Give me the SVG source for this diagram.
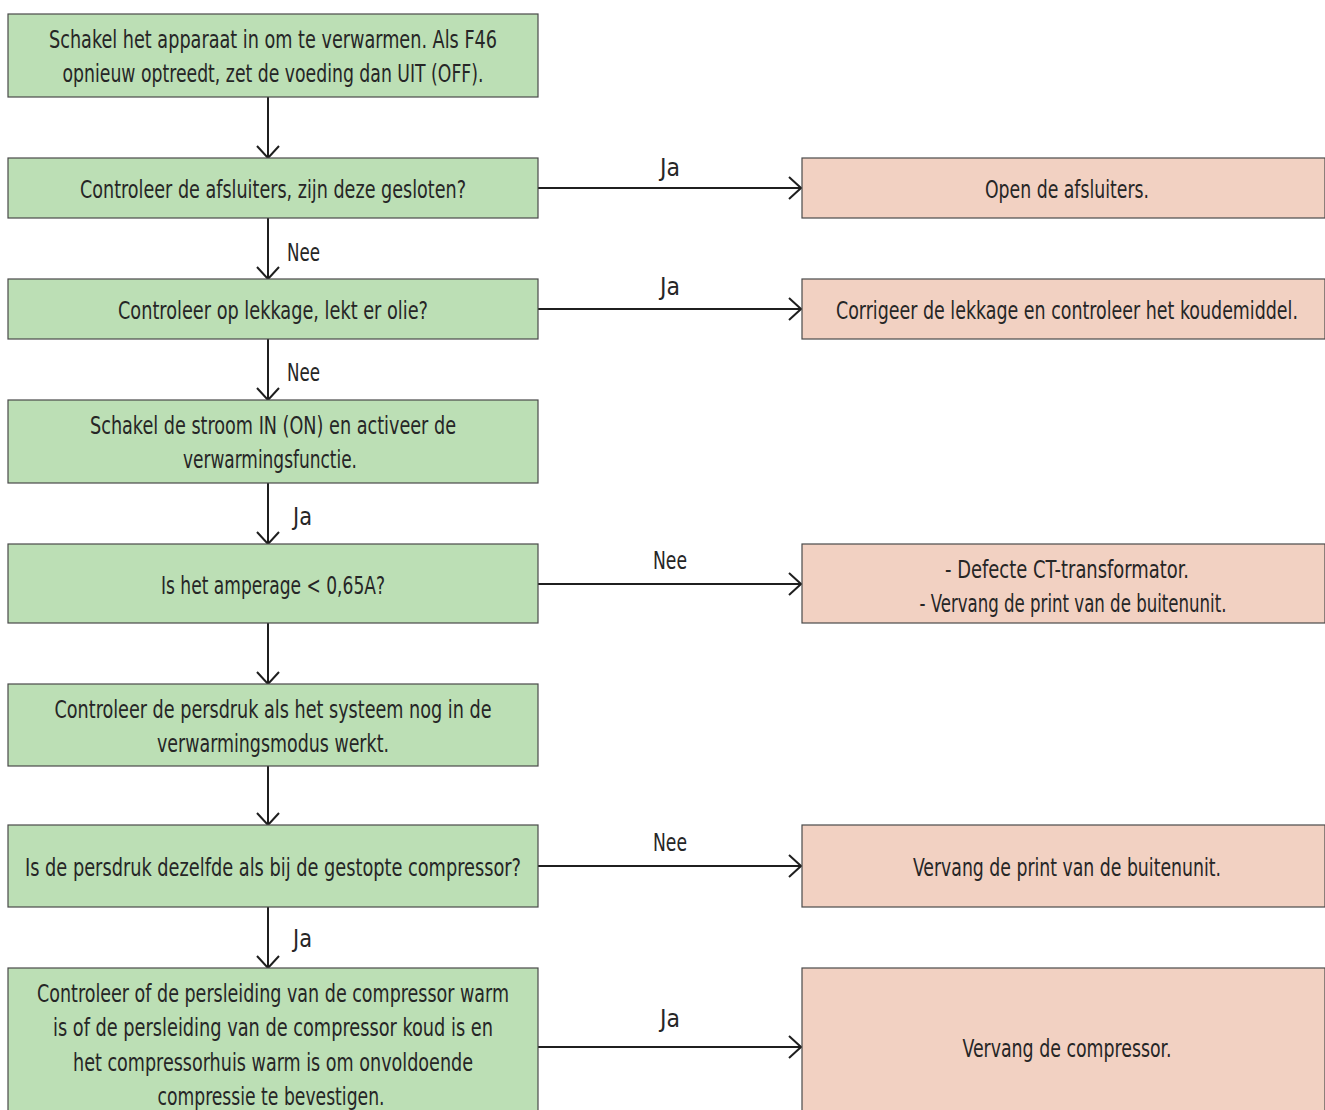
<svg xmlns="http://www.w3.org/2000/svg" width="1325" height="1110" viewBox="0 0 1325 1110">
<defs>
<style>
.g{fill:#bcdfb5;stroke:#4a4a4a;stroke-width:1.2}
.p{fill:#f2d1c2;stroke:#4a4a4a;stroke-width:1.2}
text{font-family:"Liberation Sans Narrow","DejaVu Sans Condensed","Liberation Sans",sans-serif;font-size:25px;fill:#262626}
.c{text-anchor:middle}
.ln{stroke:#1f1f1f;stroke-width:2;fill:none}
</style>
<marker id="ah" viewBox="0 0 14 24" refX="13" refY="12" markerWidth="14" markerHeight="24" markerUnits="userSpaceOnUse" orient="auto">
<path d="M1,1 L13,12 L1,23" fill="none" stroke="#1f1f1f" stroke-width="2"/>
</marker>
</defs>
<rect width="1325" height="1110" fill="#fff"/>
<g id="connectors">
<line class="ln" x1="268" y1="97" x2="268" y2="158" marker-end="url(#ah)"/>
<line class="ln" x1="268" y1="218" x2="268" y2="279" marker-end="url(#ah)"/>
<line class="ln" x1="268" y1="339" x2="268" y2="400" marker-end="url(#ah)"/>
<line class="ln" x1="268" y1="483" x2="268" y2="544" marker-end="url(#ah)"/>
<line class="ln" x1="268" y1="623" x2="268" y2="684" marker-end="url(#ah)"/>
<line class="ln" x1="268" y1="766" x2="268" y2="825" marker-end="url(#ah)"/>
<line class="ln" x1="268" y1="907" x2="268" y2="968" marker-end="url(#ah)"/>
<line class="ln" x1="538" y1="188" x2="801" y2="188" marker-end="url(#ah)"/>
<line class="ln" x1="538" y1="309" x2="801" y2="309" marker-end="url(#ah)"/>
<line class="ln" x1="538" y1="584" x2="801" y2="584" marker-end="url(#ah)"/>
<line class="ln" x1="538" y1="866" x2="801" y2="866" marker-end="url(#ah)"/>
<line class="ln" x1="538" y1="1047" x2="801" y2="1047" marker-end="url(#ah)"/>
<text class="c" x="670" y="176" textLength="20" lengthAdjust="spacingAndGlyphs">Ja</text>
<text class="c" x="670" y="295" textLength="20" lengthAdjust="spacingAndGlyphs">Ja</text>
<text class="c" x="670" y="569" textLength="34" lengthAdjust="spacingAndGlyphs">Nee</text>
<text class="c" x="670" y="851" textLength="34" lengthAdjust="spacingAndGlyphs">Nee</text>
<text class="c" x="670" y="1027" textLength="20" lengthAdjust="spacingAndGlyphs">Ja</text>
<text x="287" y="261" textLength="33" lengthAdjust="spacingAndGlyphs">Nee</text>
<text x="287" y="381" textLength="33" lengthAdjust="spacingAndGlyphs">Nee</text>
<text x="293" y="525" textLength="19" lengthAdjust="spacingAndGlyphs">Ja</text>
<text x="293" y="947" textLength="19" lengthAdjust="spacingAndGlyphs">Ja</text>
</g>
<g id="n1"><rect class="g" x="8" y="14" width="530" height="83"/>
<text class="c" x="273" y="48" textLength="448" lengthAdjust="spacingAndGlyphs">Schakel het apparaat in om te verwarmen. Als F46</text>
<text class="c" x="273" y="82" textLength="421" lengthAdjust="spacingAndGlyphs">opnieuw optreedt, zet de voeding dan UIT (OFF).</text></g>
<g id="n2"><rect class="g" x="8" y="158" width="530" height="60"/>
<text class="c" x="273" y="198" textLength="386" lengthAdjust="spacingAndGlyphs">Controleer de afsluiters, zijn deze gesloten?</text></g>
<g id="n3"><rect class="g" x="8" y="279" width="530" height="60"/>
<text class="c" x="273" y="319" textLength="310" lengthAdjust="spacingAndGlyphs">Controleer op lekkage, lekt er olie?</text></g>
<g id="n4"><rect class="g" x="8" y="400" width="530" height="83"/>
<text class="c" x="273" y="434" textLength="366" lengthAdjust="spacingAndGlyphs">Schakel de stroom IN (ON) en activeer de</text>
<text class="c" x="270" y="468" textLength="174" lengthAdjust="spacingAndGlyphs">verwarmingsfunctie.</text></g>
<g id="n5"><rect class="g" x="8" y="544" width="530" height="79"/>
<text class="c" x="273" y="594" textLength="224" lengthAdjust="spacingAndGlyphs">Is het amperage &lt; 0,65A?</text></g>
<g id="n6"><rect class="g" x="8" y="684" width="530" height="82"/>
<text class="c" x="273" y="718" textLength="437" lengthAdjust="spacingAndGlyphs">Controleer de persdruk als het systeem nog in de</text>
<text class="c" x="273" y="752" textLength="232" lengthAdjust="spacingAndGlyphs">verwarmingsmodus werkt.</text></g>
<g id="n7"><rect class="g" x="8" y="825" width="530" height="82"/>
<text class="c" x="273" y="876" textLength="496" lengthAdjust="spacingAndGlyphs">Is de persdruk dezelfde als bij de gestopte compressor?</text></g>
<g id="n8"><rect class="g" x="8" y="968" width="530" height="160"/>
<text class="c" x="273" y="1002" textLength="472" lengthAdjust="spacingAndGlyphs">Controleer of de persleiding van de compressor warm</text>
<text class="c" x="273" y="1036" textLength="440" lengthAdjust="spacingAndGlyphs">is of de persleiding van de compressor koud is en</text>
<text class="c" x="273" y="1071" textLength="400" lengthAdjust="spacingAndGlyphs">het compressorhuis warm is om onvoldoende</text>
<text class="c" x="271" y="1105" textLength="227" lengthAdjust="spacingAndGlyphs">compressie te bevestigen.</text></g>
<g id="p1"><rect class="p" x="802" y="158" width="523" height="60"/>
<text class="c" x="1067" y="198" textLength="164" lengthAdjust="spacingAndGlyphs">Open de afsluiters.</text></g>
<g id="p2"><rect class="p" x="802" y="279" width="523" height="60"/>
<text class="c" x="1067" y="319" textLength="462" lengthAdjust="spacingAndGlyphs">Corrigeer de lekkage en controleer het koudemiddel.</text></g>
<g id="p3"><rect class="p" x="802" y="544" width="523" height="79"/>
<text class="c" x="1067" y="578" textLength="244" lengthAdjust="spacingAndGlyphs">- Defecte CT-transformator.</text>
<text class="c" x="1073" y="612" textLength="307" lengthAdjust="spacingAndGlyphs">- Vervang de print van de buitenunit.</text></g>
<g id="p4"><rect class="p" x="802" y="825" width="523" height="82"/>
<text class="c" x="1067" y="876" textLength="308" lengthAdjust="spacingAndGlyphs">Vervang de print van de buitenunit.</text></g>
<g id="p5"><rect class="p" x="802" y="968" width="523" height="160"/>
<text class="c" x="1067" y="1057" textLength="209" lengthAdjust="spacingAndGlyphs">Vervang de compressor.</text></g>
</svg>
